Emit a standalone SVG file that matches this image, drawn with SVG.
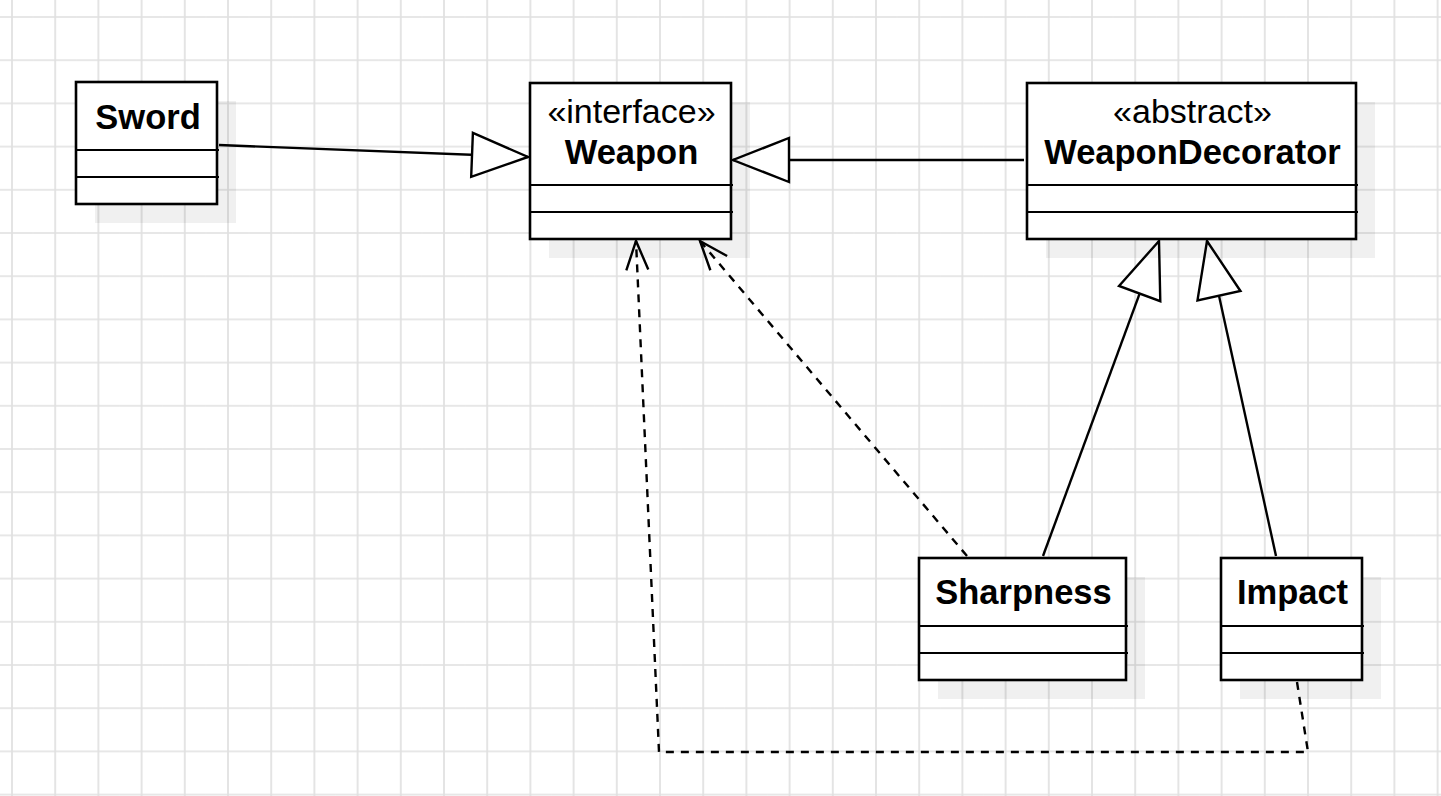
<svg xmlns="http://www.w3.org/2000/svg" width="1441" height="796" viewBox="0 0 1441 796">
<style>
.box{fill:#fff;stroke:#000;stroke-width:2.6}
.shadow{fill:#000;fill-opacity:0.06}
.div{stroke:#000;stroke-width:2.2;fill:none}
.title{font-family:"Liberation Sans",Arial,sans-serif;font-weight:bold;font-size:34.5px;text-anchor:middle;fill:#000}
.stereo{font-family:"Liberation Sans",Arial,sans-serif;font-size:34px;text-anchor:middle;fill:#000}
.edge{stroke:#000;stroke-width:2.4;fill:none}
.dash{stroke-dasharray:8 7}
</style>
<defs>
<pattern id="grid" patternUnits="userSpaceOnUse" x="-9.6" y="-4.6" width="43.2" height="43.2">
<path d="M21.6 0 V43.2 M0 21.6 H43.2" stroke="#e0e0e0" stroke-width="1.7" fill="none"/>
</pattern>
<marker id="tri" markerUnits="userSpaceOnUse" viewBox="0 0 60 50" markerWidth="60" markerHeight="50" refX="58" refY="25" orient="auto">
<path d="M2 3 L58 25 L2 47 Z" fill="#fff" stroke="#000" stroke-width="2.4" stroke-dasharray="none"/>
</marker>
<marker id="open" markerUnits="userSpaceOnUse" viewBox="0 0 34 28" markerWidth="34" markerHeight="28" refX="31" refY="14" orient="auto">
<path d="M2 3 L31 14 L2 25" fill="none" stroke="#000" stroke-width="2.4" stroke-dasharray="none"/>
</marker>
</defs>
<rect width="1441" height="796" fill="#fff"/>
<rect width="1441" height="796" fill="url(#grid)"/>

<g id="connectors">
<path class="edge" d="M219 145 L528 157" marker-end="url(#tri)"/>
<path class="edge" d="M1024 160 L733 160" marker-end="url(#tri)"/>
<path class="edge" d="M1043 556 L1159 241" marker-end="url(#tri)"/>
<path class="edge" d="M1276 556 L1207 241" marker-end="url(#tri)"/>
<path class="edge dash" d="M967 556 L700 241" marker-end="url(#open)"/>
<path class="edge dash" d="M1297 682 L1308 752 L659 752 L636 241" marker-end="url(#open)"/>
</g>

<g id="sword">
<rect class="shadow" x="95" y="101" width="141" height="122"/>
<rect class="box" x="76" y="82" width="141" height="122"/>
<path class="div" d="M76 150 H219 M76 177 H219"/>
<text class="title" x="148" y="129">Sword</text>
</g>

<g id="weapon">
<rect class="shadow" x="549" y="102" width="201" height="156"/>
<rect class="box" x="530" y="83" width="201" height="156"/>
<path class="div" d="M530 185 H733 M530 212 H733"/>
<text class="stereo" x="631.5" y="123">«interface»</text>
<text class="title" x="631.5" y="164">Weapon</text>
</g>

<g id="weapondecorator">
<rect class="shadow" x="1046" y="102" width="329" height="156"/>
<rect class="box" x="1027" y="83" width="329" height="156"/>
<path class="div" d="M1027 185 H1358 M1027 212 H1358"/>
<text class="stereo" x="1192.5" y="123">«abstract»</text>
<text class="title" x="1192.5" y="164">WeaponDecorator</text>
</g>

<g id="sharpness">
<rect class="shadow" x="938" y="577" width="207" height="122"/>
<rect class="box" x="919" y="558" width="207" height="122"/>
<path class="div" d="M919 626 H1128 M919 653 H1128"/>
<text class="title" x="1023.5" y="604">Sharpness</text>
</g>

<g id="impact">
<rect class="shadow" x="1240" y="577" width="141" height="122"/>
<rect class="box" x="1221" y="558" width="141" height="122"/>
<path class="div" d="M1221 626 H1364 M1221 653 H1364"/>
<text class="title" x="1292.5" y="604">Impact</text>
</g>
</svg>
